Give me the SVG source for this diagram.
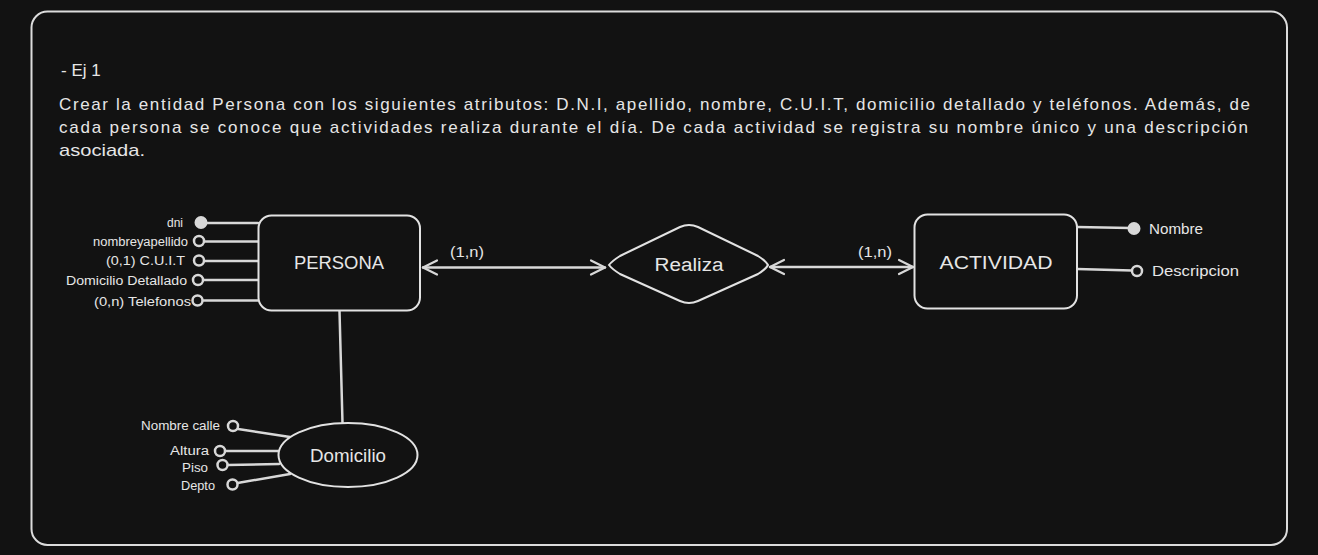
<svg xmlns="http://www.w3.org/2000/svg" width="1318" height="555" viewBox="0 0 1318 555">
  <style>
    .bg { fill: #121212; }
    .frame { fill: #121212; stroke: #dcdcdc; stroke-width: 2; }
    .shape { fill: #121212; stroke: #e2e2e2; stroke-width: 2; }
    .line { fill: none; stroke: #d8d8d8; stroke-width: 2.5; stroke-linecap: round; }
    .dot { fill: #d8d8d8; stroke: #d8d8d8; stroke-width: 2; }
    .hollow { fill: #121212; stroke: #d8d8d8; stroke-width: 2.5; }
    text { font-family: "Liberation Sans", "DejaVu Sans", sans-serif; fill: #e6e6e6; }
    .para { font-size: 17px; }
    .title { font-size: 18px; }
    .small { font-size: 12px; }
    .mid { font-size: 14px; }
  </style>
  <defs>
    <marker id="arr" viewBox="0 0 20 20" refX="18" refY="10" markerWidth="20" markerHeight="20" markerUnits="userSpaceOnUse" orient="auto-start-reverse">
      <path d="M4 3 L18 10 L4 17" fill="none" stroke="#d8d8d8" stroke-width="2.2" stroke-linecap="round" stroke-linejoin="round"/>
    </marker>
  </defs>
  <rect class="bg" x="0" y="0" width="1318" height="555"/>
  <rect class="frame" x="31.5" y="11.5" width="1255.5" height="533.5" rx="16"/>

  <g id="header">
    <text class="para" x="61" y="76">- Ej 1</text>
    <text class="para" x="59" y="110" textLength="1191" lengthAdjust="spacing">Crear la entidad Persona con los siguientes atributos: D.N.I, apellido, nombre, C.U.I.T, domicilio detallado y teléfonos. Además, de</text>
    <text class="para" x="59" y="133" textLength="1189" lengthAdjust="spacing">cada persona se conoce que actividades realiza durante el día. De cada actividad se registra su nombre único y una descripción</text>
    <text class="para" x="59" y="156" textLength="86" lengthAdjust="spacingAndGlyphs">asociada.</text>
  </g>

  <g id="connectors">
    <line class="line" x1="206" y1="223" x2="258" y2="223"/>
    <line class="line" x1="204" y1="241.5" x2="258" y2="241.5"/>
    <line class="line" x1="204" y1="261" x2="258" y2="261"/>
    <line class="line" x1="203" y1="280" x2="258" y2="280"/>
    <line class="line" x1="202" y1="300.5" x2="258" y2="300.5"/>
    <line class="line" x1="423" y1="267.5" x2="605" y2="267.5" marker-start="url(#arr)" marker-end="url(#arr)"/>
    <line class="line" x1="770" y1="267" x2="913" y2="267" marker-start="url(#arr)" marker-end="url(#arr)"/>
    <line class="line" x1="1077" y1="227" x2="1130" y2="228"/>
    <line class="line" x1="1077" y1="269" x2="1132" y2="270.5"/>
    <line class="line" x1="339.5" y1="311" x2="342.5" y2="423"/>
    <line class="line" x1="238" y1="429" x2="290" y2="437"/>
    <line class="line" x1="225" y1="451" x2="279" y2="451"/>
    <line class="line" x1="227.5" y1="465" x2="279" y2="464"/>
    <line class="line" x1="237.5" y1="483" x2="290" y2="474"/>
  </g>

  <g id="persona">
    <rect class="shape" x="258.5" y="215.5" width="161.5" height="95" rx="13"/>
    <text class="title" x="339" y="269" text-anchor="middle" textLength="90" lengthAdjust="spacingAndGlyphs">PERSONA</text>
  </g>

  <g id="attr-dni">
    <circle class="dot" cx="201" cy="222.5" r="5.5"/>
    <text class="small" x="183" y="227" text-anchor="end">dni</text>
  </g>
  <g id="attr-nombreyapellido">
    <circle class="hollow" cx="199" cy="241" r="5"/>
    <text class="small" x="188" y="245.5" text-anchor="end" textLength="95" lengthAdjust="spacingAndGlyphs">nombreyapellido</text>
  </g>
  <g id="attr-cuit">
    <circle class="hollow" cx="199" cy="260.5" r="5"/>
    <text class="small" x="185" y="265" text-anchor="end" textLength="79" lengthAdjust="spacingAndGlyphs">(0,1) C.U.I.T</text>
  </g>
  <g id="attr-domicilio-detallado">
    <circle class="hollow" cx="198" cy="280" r="5"/>
    <text class="small" x="187" y="284.5" text-anchor="end" textLength="121" lengthAdjust="spacingAndGlyphs">Domicilio Detallado</text>
  </g>
  <g id="attr-telefonos">
    <circle class="hollow" cx="197.5" cy="300.5" r="5"/>
    <text class="small" x="191" y="305.5" text-anchor="end" textLength="97" lengthAdjust="spacingAndGlyphs">(0,n) Telefonos</text>
  </g>

  <g id="label-persona-card">
    <text class="mid" x="467" y="257" text-anchor="middle" textLength="34" lengthAdjust="spacingAndGlyphs">(1,n)</text>
  </g>
  <g id="label-actividad-card">
    <text class="mid" x="875" y="257" text-anchor="middle" textLength="34" lengthAdjust="spacingAndGlyphs">(1,n)</text>
  </g>

  <g id="realiza">
    <path class="shape" d="M609 265 Q 612 261 620 256 L680 227 Q 689 223 698 227 L758 256 Q 766 261 768 265 Q 766 269 758 274 L698 301 Q 689 305 680 301 L620 274 Q 612 269 609 265 Z"/>
    <text class="title" x="689" y="271" text-anchor="middle" textLength="69" lengthAdjust="spacingAndGlyphs">Realiza</text>
  </g>

  <g id="actividad">
    <rect class="shape" x="914.5" y="214.5" width="162.5" height="94" rx="13"/>
    <text class="title" x="996" y="269" text-anchor="middle" textLength="113" lengthAdjust="spacingAndGlyphs">ACTIVIDAD</text>
  </g>

  <g id="attr-nombre">
    <circle class="dot" cx="1134" cy="228.5" r="5.5"/>
    <text class="mid" x="1149" y="234" textLength="54" lengthAdjust="spacingAndGlyphs">Nombre</text>
  </g>
  <g id="attr-descripcion">
    <circle class="hollow" cx="1137" cy="271" r="5"/>
    <text class="mid" x="1152" y="276" textLength="87" lengthAdjust="spacingAndGlyphs">Descripcion</text>
  </g>

  <g id="domicilio">
    <ellipse class="shape" cx="348" cy="455" rx="69.5" ry="32"/>
    <text class="title" x="348" y="461.5" text-anchor="middle" textLength="76" lengthAdjust="spacingAndGlyphs">Domicilio</text>
  </g>

  <g id="attr-nombre-calle">
    <circle class="hollow" cx="233" cy="426" r="5"/>
    <text class="small" x="220" y="429.5" text-anchor="end" textLength="79" lengthAdjust="spacingAndGlyphs">Nombre calle</text>
  </g>
  <g id="attr-altura">
    <circle class="hollow" cx="220" cy="451" r="5"/>
    <text class="small" x="209" y="455" text-anchor="end" textLength="39" lengthAdjust="spacingAndGlyphs">Altura</text>
  </g>
  <g id="attr-piso">
    <circle class="hollow" cx="222.5" cy="465" r="5"/>
    <text class="small" x="208" y="472" text-anchor="end" textLength="26" lengthAdjust="spacingAndGlyphs">Piso</text>
  </g>
  <g id="attr-depto">
    <circle class="hollow" cx="232.5" cy="484.5" r="5"/>
    <text class="small" x="215" y="490" text-anchor="end" textLength="34" lengthAdjust="spacingAndGlyphs">Depto</text>
  </g>
</svg>
